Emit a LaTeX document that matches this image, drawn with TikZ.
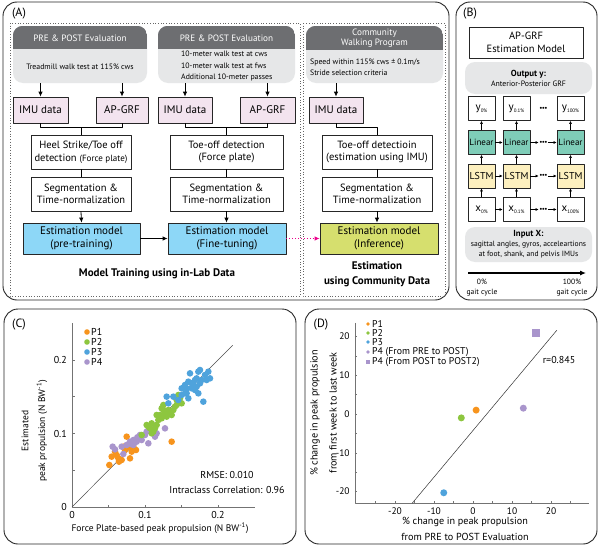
\documentclass[tikz,border=0pt]{standalone}
\usepackage{fontspec}
\setmainfont{PT Sans}
\usetikzlibrary{arrows.meta}
\definecolor{hdr}{HTML}{6D6E71}
\definecolor{lgray}{HTML}{E6E7E8}
\definecolor{imupink}{HTML}{F3E4EF}
\definecolor{estblue}{HTML}{8DD7F7}
\definecolor{estgreen}{HTML}{D6DF6E}
\definecolor{lincol}{HTML}{7FCDB8}
\definecolor{lstmcol}{HTML}{FDF0BF}
\definecolor{pA}{HTML}{F7941D}
\definecolor{pB}{HTML}{8DC63F}
\definecolor{pC}{HTML}{4FA3DC}
\definecolor{pD}{HTML}{A995CC}
\definecolor{magarrow}{HTML}{EC008C}
\newcommand{\nnsub}[2]{#1\raisebox{-2pt}{\fontsize{5}{6}\selectfont #2}}
\begin{document}
\begin{tikzpicture}[x=1pt,y=-1pt, line join=round,
  panel/.style={draw=black!85, line width=0.9pt, rounded corners=14pt},
  dotframe/.style={draw=black!60, dotted, line width=0.7pt},
  evalbox/.style={fill=lgray, rounded corners=10pt, inner sep=0pt},
  hdrtxt/.style={text=white, font=\fontsize{9.2}{10.5}\selectfont, align=center, inner sep=0pt},
  bodytxt/.style={font=\fontsize{7.8}{9}\selectfont, inner sep=0pt},
  box/.style={draw=black!85, line width=0.8pt, inner sep=0pt, align=center, fill=white, font=\fontsize{10.5}{12.5}\selectfont},
  imubox/.style={box, fill=imupink, minimum height=26pt, font=\fontsize{11}{13}\selectfont},
  estbox/.style={box, minimum height=31pt, font=\fontsize{11}{13.5}\selectfont},
  arr/.style={-{Latex[length=5pt,width=4.5pt]}, line width=0.8pt},
  ln/.style={line width=0.8pt},
  magarr/.style={-{Latex[length=5pt,width=4.5pt]}, magarrow, dotted, line width=0.9pt},
  capt/.style={font=\bfseries\fontsize{11}{15}\selectfont, align=center},
  lab/.style={font=\fontsize{12}{14}\selectfont},
  nnbox/.style={draw=black!85, line width=0.7pt, minimum width=27pt, minimum height=24pt, inner sep=0pt, fill=white, font=\fontsize{11}{12}\selectfont},
  linbox/.style={nnbox, fill=lincol, font=\fontsize{9}{10}\selectfont},
  lstmbox/.style={nnbox, fill=lstmcol, font=\fontsize{10}{11}\selectfont},
  ddots/.style={font=\fontsize{7}{8}\selectfont, inner sep=0.5pt},
  sarr/.style={-{Latex[length=3pt,width=3pt]}, line width=0.6pt},
  gaittxt/.style={font=\fontsize{7.6}{10}\selectfont, align=center},
  axc/.style={draw=black!55, line width=0.6pt},
  tickC/.style={font=\fontsize{10}{12}\selectfont, inner sep=1pt},
  tickD/.style={font=\fontsize{9.5}{11}\selectfont, inner sep=1pt},
  axlab/.style={font=\fontsize{9.5}{11}\selectfont, align=center},
  axlabD/.style={font=\fontsize{10.2}{11}\selectfont, align=center},
  legC/.style={font=\fontsize{10}{11}\selectfont, anchor=west, inner sep=0pt},
  legD/.style={font=\fontsize{9.8}{10}\selectfont, anchor=west, inner sep=0pt}
]
\useasboundingbox (0,0) rectangle (600,546);
\fill[white] (0,0) rectangle (600,546);

% ================= Panel A =================
\draw[panel] (3,2) rectangle (449,300);
\node[lab] (labA) at (19,14) {(A)};
\draw[dotframe] (10,23) rectangle (300,296);
\draw[dotframe] (303,23) rectangle (445,296);

\node[evalbox, minimum width=134pt, minimum height=57pt] (evA) at (80,54.5) {};
\node[evalbox, minimum width=137pt, minimum height=57pt] (evB) at (226.5,54.5) {};
\node[evalbox, minimum width=137pt, minimum height=57pt] (evC) at (374.5,54.5) {};
\begin{scope}
  \clip[rounded corners=10pt] (evA.south west) rectangle (evA.north east);
  \fill[hdr] (evA.north west) rectangle (evA.east |- 0,49);
\end{scope}
\begin{scope}
  \clip[rounded corners=10pt] (evB.south west) rectangle (evB.north east);
  \fill[hdr] (evB.north west) rectangle (evB.east |- 0,49);
\end{scope}
\begin{scope}
  \clip[rounded corners=10pt] (evC.south west) rectangle (evC.north east);
  \fill[hdr] (evC.north west) rectangle (evC.east |- 0,50);
\end{scope}
\node[hdrtxt] (hA) at (80,38) {PRE \& POST Evaluation};
\node[bodytxt] (tA) at (80,67) {Treadmill walk test at 115\% cws};
\node[hdrtxt] (hB) at (226.5,38) {PRE \& POST Evaluation};
\node[bodytxt, anchor=west] (tB1) at (181,54) {10-meter walk test at cws};
\node[bodytxt, anchor=west] (tB2) at (181,66) {10-meter walk test at fws};
\node[bodytxt, anchor=west] (tB3) at (181,78) {Additional 10-meter passes};
\node[hdrtxt] (hC) at (374.5,38) {Community\\Walking Program};
\node[bodytxt, anchor=west] (tC1) at (310,62) {Speed within 115\% cws ± 0.1m/s};
\node[bodytxt, anchor=west] (tC2) at (310,73) {Stride selection criteria};

\node[imubox, minimum width=55pt] (imuA) at (40.5,110) {IMU data};
\node[imubox, minimum width=52pt] (grfA) at (122,110) {AP-GRF};
\node[imubox, minimum width=54pt] (imuB) at (185,110) {IMU data};
\node[imubox, minimum width=55pt] (grfB) at (267.5,110) {AP-GRF};
\node[imubox, minimum width=54pt] (imuC) at (336,110) {IMU data};
\foreach \n/\e in {imuA/evA, grfA/evA, imuB/evB, grfB/evB, imuC/evC}
  \draw[arr] (\n.north |- \e.south) -- (\n.north);

\node[box, minimum width=100pt, minimum height=34pt] (heelA) at (81,152) {Heel Strike/Toe off\\detection {\fontsize{9}{10}\selectfont(Force plate)}};
\node[box, minimum width=100pt, minimum height=34pt] (segA) at (81,194) {Segmentation \&\\Time-normalization};
\node[estbox, fill=estblue, minimum width=117pt] (estA) at (81.5,238.5) {Estimation model\\(pre-training)};

\node[box, minimum width=113pt, minimum height=34pt] (toeB) at (226.5,152) {Toe-off detection\\(Force plate)};
\node[box, minimum width=113pt, minimum height=34pt] (segB) at (226.5,194) {Segmentation \&\\Time-normalization};
\node[estbox, fill=estblue, minimum width=118pt] (estB) at (227,238.5) {Estimation model\\(Fine-tuning)};

\node[box, minimum width=110pt, minimum height=34pt] (toeC) at (377,152) {Toe-off detectioin\\(estimation using IMU)};
\node[box, minimum width=110pt, minimum height=34pt] (segC) at (377,194) {Segmentation \&\\Time-normalization};
\node[estbox, fill=estgreen, minimum width=118pt] (estC) at (379,238.5) {Estimation model\\(Inference)};

\draw[ln] (imuA.south) -- ++(0,4) -| (grfA.south);
\draw[ln] (heelA.north) -- ++(0,-8);
\draw[ln] (heelA.south) -- (segA.north);
\draw[arr] (segA.south) -- (estA.north);
\draw[ln] (imuB.south) -- ++(0,4) -| (grfB.south);
\draw[ln] (toeB.north) -- ++(0,-8);
\draw[ln] (toeB.south) -- (segB.north);
\draw[arr] (segB.south) -- (segB.south |- estB.north);
\draw[ln] (imuC.south) -- ++(0,4) -| (toeC.north);
\draw[ln] (toeC.south) -- (segC.north);
\draw[arr] (segC.south) -- (segC.south |- estC.north);
\draw[arr] (estA.east) -- (estB.west);
\draw[magarr] (estB.east) -- (estC.west);

\node[capt] (capA) at (157,274) {Model Training using in-Lab Data};
\node[capt] (capC) at (377,274.5) {Estimation\\using Community Data};

% ================= Panel B =================
\draw[panel] (456,2) rectangle (597,300);
\node[lab] (labB) at (470,14) {(B)};
\node[box, minimum width=114pt, minimum height=31pt] (ttl) at (526,42.5) {AP-GRF\\Estimation Model};
\node[evalbox, minimum width=127pt, minimum height=32pt, align=center, font=\fontsize{7.8}{10}\selectfont] (outb) at (528.5,78) {{\bfseries\fontsize{8.8}{10}\selectfont Output y:}\\Anterior-Posterior GRF};

\node[nnbox] (ny1) at (481.5,108.5) {\nnsub{y}{0\%}};
\node[nnbox] (ny2) at (516.5,108.5) {\nnsub{y}{0.1\%}};
\node[nnbox] (ny3) at (570.5,108.5) {\nnsub{y}{100\%}};
\node[linbox] (nl1) at (481.5,142.5) {Linear};
\node[linbox] (nl2) at (516.5,142.5) {Linear};
\node[linbox] (nl3) at (570.5,142.5) {Linear};
\node[lstmbox] (ns1) at (481.5,176) {LSTM};
\node[lstmbox] (ns2) at (516.5,176) {LSTM};
\node[lstmbox] (ns3) at (570.5,176) {LSTM};
\node[nnbox] (nx1) at (481.5,209.5) {\nnsub{x}{0\%}};
\node[nnbox] (nx2) at (516.5,209.5) {\nnsub{x}{0.1\%}};
\node[nnbox] (nx3) at (570.5,209.5) {\nnsub{x}{100\%}};
\node[ddots] (dy) at (543.5,108.5) {\textbullet\kern-0.6pt\textbullet\kern-0.6pt\textbullet};
\node[ddots] (dl) at (543.5,142.5) {\textbullet\kern-0.6pt\textbullet\kern-0.6pt\textbullet};
\node[ddots] (ds) at (543.5,176) {\textbullet\kern-0.6pt\textbullet\kern-0.6pt\textbullet};
\node[ddots] (dx) at (543.5,209.5) {\textbullet\kern-0.6pt\textbullet\kern-0.6pt\textbullet};
\foreach \r/\d in {nl/dl, ns/ds, nx/dx} {
  \draw[sarr] (\r1.east) -- (\r2.west);
  \draw[sarr] (\r2.east) -- (\d.west);
  \draw[sarr] (\d.east) -- (\r3.west);
}
\foreach \i in {1,2,3} {
  \draw[sarr] (nx\i.north) -- (ns\i.south);
  \draw[sarr] (ns\i.north) -- (nl\i.south);
  \draw[sarr] (nl\i.north) -- (ny\i.south);
}
\node[evalbox, minimum width=127pt, minimum height=35pt, align=center, font=\fontsize{7.6}{10}\selectfont] (inb) at (528.5,244.5) {{\bfseries\fontsize{8.8}{10}\selectfont Input X:}\\sagittal angles, gyros, acceleartions\\at foot, shank, and pelvis IMUs};
\coordinate (g0) at (468,273);
\coordinate (g1) at (586,273);
\draw[-{Latex[length=6pt,width=5pt]}, line width=1.1pt] (g0) -- (g1);
\node[gaittxt] (g0t) at (482,288) {0\%\\gait cycle};
\node[gaittxt] (g1t) at (572,288) {100\%\\gait cycle};

% ================= Panel C =================
\draw[panel] (4,309) rectangle (296,544);
\node[lab] (labC) at (19,325) {(C)};
\begin{scope}[shift={(72,507)}, x=730pt, y=735pt]
  \draw[axc] (0,0.25) -- (0,0) -- (0.25,0);
  \foreach \t in {0.05,0.1,0.15,0.2} {
    \draw[axc] (\t,0) -- ++(0pt,2.5pt);
    \draw[axc] (0,\t) -- ++(2.5pt,0pt);
  }
  \foreach \t [count=\i] in {0,0.1,0.2} {
    \node[tickC, below=3pt] (cxl\i) at (\t,0) {\t};
    \node[tickC, left=4pt] (cyl\i) at (0,\t) {\t};
  }
  \draw[black!70, line width=0.5pt] (0,0) -- (0.22,0.22);
\end{scope}
\begin{scope}[shift={(0,300)}, x=0.33333pt, y=-0.33333pt]
  \foreach \a/\b in {328/495,335/470,345/455,355/475,357/485,350/465,380/410,385/440,395/455,390/475,400/440,408/450,370/440,515/425,365/480,375/450}
    \fill[pA] (\a,\b) circle (3.3pt);
  \foreach \a/\b in {338/440,345/448,365/440,370/462,390/425,400/420,410/425,420/405,445/430,465/410,495/385,460/390,440/395,400/435,392/432,425/420,380/435,412/412,435/405,470/400}
    \fill[pD] (\a,\b) circle (3.3pt);
  \foreach \a/\b in {425/405,440/375,450/385,455/370,460/395,470/375,475/360,480/345,485/325,490/315,495/340,505/330,515/345,520/330,525/320,530/300,535/285,540/295,545/310,500/350,470/345,455/400,465/385,445/380,485/355,510/335,530/315,490/330}
    \fill[pB] (\a,\b) circle (3.3pt);
  \foreach \a/\b in {500/290,520/290,535/300,545/265,555/255,560/280,565/245,570/220,580/255,590/235,600/210,605/240,615/225,625/215,630/235,585/270,595/280,565/295,555/280,610/305,575/250,590/260,595/215,545/285,505/310,575/265,560/265,600/250,585/240,620/240}
    \fill[pC] (\a,\b) circle (3.3pt);
\end{scope}
\foreach \c/\t/\y in {pA/P1/332, pB/P2/342, pC/P3/352, pD/P4/362} {
  \fill[\c] (87,\y) circle (2.8pt);
  \node[legC] (lc\t) at (91,\y) {\t};
}
\node[axlab, rotate=90] (cyl) at (25,431) {Estimated};
\node[axlab, rotate=90] (cyl2) at (42,431) {peak propulsion (N BW\textsuperscript{-1})};
\node[axlab] (cxl) at (160,528) {Force Plate-based peak propulsion (N BW\textsuperscript{-1})};
\node[axlab, font=\fontsize{10}{11}\selectfont] (rmse) at (227,475) {RMSE: 0.010};
\node[axlab, font=\fontsize{10}{11}\selectfont] (icc) at (227,490) {Intraclass Correlation: 0.96};

% ================= Panel D =================
\draw[panel] (305,309) rectangle (597,544);
\node[lab] (labD) at (321,325) {(D)};
\begin{scope}[shift={(473,414)}, x=3.9pt, y=3.88pt]
  \draw[axc] (-30.3,23.5) -- (-30.3,-23) -- (29.7,-23);
  \foreach \t in {-25,-20,...,25} \draw[axc] (\t,-23) -- ++(0pt,2.5pt);
  \foreach \t in {-20,-15,...,20} \draw[axc] (-30.3,\t) -- ++(2.5pt,0pt);
  \foreach \t [count=\i] in {-20,-10,0,10,20} {
    \node[tickD, below=3pt] (dxl\i) at (\t,-23) {\t};
    \node[tickD, left=4pt] (dyl\i) at (-30.3,\t) {\t};
  }
  \draw[black!80, line width=0.5pt] (-15.6,-23) -- (21.5,21.6);
  \fill[pA] (0.8,1) circle (3.5pt);
  \fill[pB] (-3,-1) circle (3.5pt);
  \fill[pC] (-7.5,-20.3) circle (3.5pt);
  \fill[pD] (12.9,1.5) circle (3.5pt);
  \fill[pD] (16.2,21) ++(-4pt,-4pt) rectangle ++(8pt,8pt);
\end{scope}
\foreach \c/\t/\y [count=\i] in {pA/P1/324, pB/P2/333, pC/P3/342, pD/P4 (From PRE to POST)/352} {
  \fill[\c] (368,\y) circle (1.8pt);
  \node[legD] (ld\i) at (372,\y) {\t};
}
\fill[pD] (366,360) rectangle (370,364);
\node[legD] (ld5) at (372,362) {P4 (From POST to POST2)};
\node[font=\fontsize{10}{11}\selectfont] (rval) at (559,360) {r=0.845};
\node[axlabD, rotate=90] (dyl) at (315,413) {\% change in peak propulsion};
\node[axlabD, rotate=90] (dyl2) at (333,413) {from first week to last week};
\node[axlabD] (dxla) at (465,522) {\% change in peak propulsion};
\node[axlabD] (dxlb) at (465,537) {from PRE to POST Evaluation};
\end{tikzpicture}
\end{document}
